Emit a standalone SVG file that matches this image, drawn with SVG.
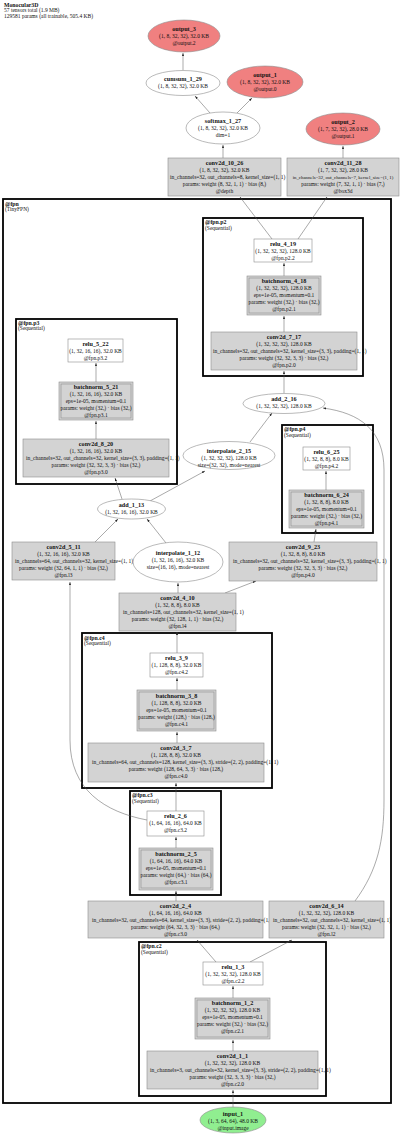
<svg xmlns="http://www.w3.org/2000/svg" width="400" height="1142" viewBox="0 0 400 1142">
<defs>
<marker id="ah" viewBox="0 0 6 4" refX="6" refY="2" markerWidth="3.2" markerHeight="2.4" markerUnits="userSpaceOnUse" orient="auto"><path d="M0,0 L6,2 L0,4 z" fill="#222"/></marker>
<style>
text{font-family:"Liberation Serif","Times New Roman",serif;fill:#111}
.h{font-size:6.2px;font-weight:bold;text-anchor:middle}
.s{font-size:5.5px;text-anchor:middle}
.l{font-size:5.5px;text-anchor:start}
.ch{font-size:5.8px;font-weight:bold}
.cs{font-size:5.5px}
.box{fill:#d3d3d3;stroke:#8c8c8c;stroke-width:0.6}
.wbox{fill:#fff;stroke:#8c8c8c;stroke-width:0.6}
.inner{fill:none;stroke:#8c8c8c;stroke-width:0.6}
.ell{fill:#fff;stroke:#8c8c8c;stroke-width:0.6}
.out{fill:#f08080;stroke:#8c8c8c;stroke-width:0.6}
.inp{fill:#90ee90;stroke:#8c8c8c;stroke-width:0.6}
.cl{fill:#fff;stroke:#000;stroke-width:1.8}
.e{fill:none;stroke:#555;stroke-width:0.5;marker-end:url(#ah)}
</style>
</defs>
<rect width="400" height="1142" fill="#fff"/>
<g id="header">
<text x="4" y="6.5" class="ch">Monocular3D</text>
<text x="4" y="12" class="cs">57 tensors total (1.9 MB)</text>
<text x="4" y="17.5" class="cs">129581 params (all trainable, 505.4 KB)</text>
</g>
<g id="clusters">
<g id="cluster_fpn"><rect class="cl" x="3" y="199" width="388" height="904"/><text x="5" y="205.5" class="ch">@fpn</text><text x="5" y="211" class="cs">(TinyFPN)</text></g>
<g id="cluster_p2"><rect class="cl" x="203" y="218" width="160" height="158"/><text x="205" y="224" class="ch">@fpn.p2</text><text x="205" y="229.5" class="cs">(Sequential)</text></g>
<g id="cluster_p3"><rect class="cl" x="16" y="319" width="161" height="165"/><text x="18" y="324.5" class="ch">@fpn.p3</text><text x="18" y="330" class="cs">(Sequential)</text></g>
<g id="cluster_p4"><rect class="cl" x="282" y="425" width="91" height="108"/><text x="284" y="431" class="ch">@fpn.p4</text><text x="284" y="436.5" class="cs">(Sequential)</text></g>
<g id="cluster_c4"><rect class="cl" x="82" y="633" width="190" height="155"/><text x="84" y="639.5" class="ch">@fpn.c4</text><text x="84" y="645" class="cs">(Sequential)</text></g>
<g id="cluster_c3"><rect class="cl" x="130" y="791" width="91" height="104"/><text x="132" y="797" class="ch">@fpn.c3</text><text x="132" y="802.5" class="cs">(Sequential)</text></g>
<g id="cluster_c2"><rect class="cl" x="139" y="942" width="187" height="154"/><text x="141" y="948" class="ch">@fpn.c2</text><text x="141" y="953.5" class="cs">(Sequential)</text></g>
</g>
<g id="connectors">
<path class="e" d="M183,70 L183,53"/>
<path class="e" d="M210,113 L195,96"/>
<path class="e" d="M237,113 L252,98"/>
<path class="e" d="M223,158 L223,145"/>
<path class="e" d="M343,158 L343,146"/>
<path class="e" d="M272,239 L240,197"/>
<path class="e" d="M298,239 L327,197"/>
<path class="e" d="M284,276 L284,263"/>
<path class="e" d="M284,332 L284,316"/>
<path class="e" d="M284,393 L284,371"/>
<path class="e" d="M250,442 L272,413"/>
<path class="e" d="M355,901 C378,870 384,840 384,800 L384,470 C384,430 360,413 323,408"/>
<path class="e" d="M122,499 L115,478"/>
<path class="e" d="M150,501 L205,471"/>
<path class="e" d="M95,542 L118,519"/>
<path class="e" d="M166,543 L147,519"/>
<path class="e" d="M178,593 L178,583"/>
<path class="e" d="M225,593 L256,581"/>
<path class="e" d="M314,542 L316,529"/>
<path class="e" d="M326,490 L326,471"/>
<path class="e" d="M96,439 L96,421"/>
<path class="e" d="M96,382 L96,363"/>
<path class="e" d="M177,653 L177,632"/>
<path class="e" d="M177,690 L177,678"/>
<path class="e" d="M177,743 L177,732"/>
<path class="e" d="M176,811 L176,783"/>
<path class="e" d="M147,820 C105,812 70,790 70,740 L70,582"/>
<path class="e" d="M176,848 L176,837"/>
<path class="e" d="M176,901 L176,891"/>
<path class="e" d="M216,962 L197,940"/>
<path class="e" d="M250,962 L292,940"/>
<path class="e" d="M233,998 L233,986"/>
<path class="e" d="M233,1051 L233,1040"/>
<path class="e" d="M233,1107 L233,1090"/>
</g>
<g id="output_3"><ellipse class="out" cx="184" cy="36" rx="36" ry="16"/><text x="184" y="31" class="h">output_3</text><text x="184" y="38" class="s">(1, 8, 32, 32), 32.0 KB</text><text x="184" y="45" class="s">@output.2</text></g>
<g id="cumsum_1_29"><ellipse class="ell" cx="183" cy="83" rx="37" ry="12.5"/><text x="183" y="80.7" class="h">cumsum_1_29</text><text x="183" y="87.7" class="s">(1, 8, 32, 32), 32.0 KB</text></g>
<g id="output_1"><ellipse class="out" cx="265" cy="82" rx="38" ry="16"/><text x="265" y="77" class="h">output_1</text><text x="265" y="84" class="s">(1, 8, 32, 32), 32.0 KB</text><text x="265" y="91" class="s">@output.0</text></g>
<g id="softmax_1_27"><ellipse class="ell" cx="223" cy="128" rx="37" ry="16"/><text x="223" y="123" class="h">softmax_1_27</text><text x="223" y="130" class="s">(1, 8, 32, 32), 32.0 KB</text><text x="223" y="137" class="s">dim=1</text></g>
<g id="output_2"><ellipse class="out" cx="343" cy="129" rx="37" ry="16"/><text x="343" y="124" class="h">output_2</text><text x="343" y="131" class="s">(1, 7, 32, 32), 28.0 KB</text><text x="343" y="138" class="s">@output.1</text></g>
<g id="conv2d_10_26"><rect class="box" x="168" y="158" width="113" height="38"/><text x="224.5" y="165" class="h">conv2d_10_26</text><text x="224.5" y="172" class="s">(1, 8, 32, 32), 32.0 KB</text><text x="170" y="179" class="l">in_channels=32, out_channels=8, kernel_size=(1, 1)</text><text x="224.5" y="186" class="s">params: weight (8, 32, 1, 1) · bias (8,)</text><text x="224.5" y="193" class="s">@depth</text></g>
<g id="conv2d_11_28"><rect class="box" x="287" y="158" width="112" height="38"/><text x="343" y="165" class="h">conv2d_11_28</text><text x="343" y="172" class="s">(1, 7, 32, 32), 28.0 KB</text><text x="343" y="179" class="s" style="font-size:4.8px">in_channels=32, out_channels=7, kernel_size=(1, 1)</text><text x="343" y="186" class="s">params: weight (7, 32, 1, 1) · bias (7,)</text><text x="343" y="193" class="s">@box3d</text></g>
<g id="relu_4_19"><rect class="wbox" x="254" y="239" width="58" height="23"/><text x="283" y="245.5" class="h">relu_4_19</text><text x="283" y="252.5" class="s">(1, 32, 32, 32), 128.0 KB</text><text x="283" y="259.5" class="s">@fpn.p2.2</text></g>
<g id="batchnorm_4_18"><rect class="box" x="247" y="276" width="74" height="39"/><rect class="inner" x="249" y="278" width="70" height="35"/><text x="284" y="283" class="h">batchnorm_4_18</text><text x="284" y="290" class="s">(1, 32, 32, 32), 128.0 KB</text><text x="284" y="297" class="s">eps=1e-05, momentum=0.1</text><text x="284" y="304" class="s">params: weight (32,) · bias (32,)</text><text x="284" y="311" class="s">@fpn.p2.1</text></g>
<g id="conv2d_7_17"><rect class="box" x="211" y="332" width="146" height="38"/><text x="284" y="339" class="h">conv2d_7_17</text><text x="284" y="346" class="s">(1, 32, 32, 32), 128.0 KB</text><text x="213" y="353" class="l">in_channels=32, out_channels=32, kernel_size=(3, 3), padding=(1, 1)</text><text x="284" y="360" class="s">params: weight (32, 32, 3, 3) · bias (32,)</text><text x="284" y="367" class="s">@fpn.p2.0</text></g>
<g id="add_2_16"><ellipse class="ell" cx="284" cy="403.5" rx="41" ry="10"/><text x="284" y="400.7" class="h">add_2_16</text><text x="284" y="407.5" class="s">(1, 32, 32, 32), 128.0 KB</text></g>
<g id="relu_5_22"><rect class="wbox" x="68" y="339" width="55" height="23"/><text x="95.5" y="345.5" class="h">relu_5_22</text><text x="95.5" y="352.5" class="s">(1, 32, 16, 16), 32.0 KB</text><text x="95.5" y="359.5" class="s">@fpn.p3.2</text></g>
<g id="batchnorm_5_21"><rect class="box" x="59" y="382" width="74" height="38"/><rect class="inner" x="61" y="384" width="70" height="34"/><text x="96" y="389" class="h">batchnorm_5_21</text><text x="96" y="396" class="s">(1, 32, 16, 16), 32.0 KB</text><text x="96" y="403" class="s">eps=1e-05, momentum=0.1</text><text x="96" y="410" class="s">params: weight (32,) · bias (32,)</text><text x="96" y="417" class="s">@fpn.p3.1</text></g>
<g id="conv2d_8_20"><rect class="box" x="23" y="439" width="146" height="38"/><text x="96" y="446" class="h">conv2d_8_20</text><text x="96" y="453" class="s">(1, 32, 16, 16), 32.0 KB</text><text x="26" y="460" class="l">in_channels=32, out_channels=32, kernel_size=(3, 3), padding=(1, 1)</text><text x="96" y="467" class="s">params: weight (32, 32, 3, 3) · bias (32,)</text><text x="96" y="474" class="s">@fpn.p3.0</text></g>
<g id="interpolate_2_15"><ellipse class="ell" cx="229" cy="455.5" rx="46" ry="14"/><text x="229" y="452.7" class="h">interpolate_2_15</text><text x="229" y="459.7" class="s">(1, 32, 32, 32), 128.0 KB</text><text x="229" y="466.7" class="s">size=(32, 32), mode=nearest</text></g>
<g id="relu_6_25"><rect class="wbox" x="303" y="447" width="47" height="23"/><text x="326.5" y="453.5" class="h">relu_6_25</text><text x="326.5" y="460.5" class="s">(1, 32, 8, 8), 8.0 KB</text><text x="326.5" y="467.5" class="s">@fpn.p4.2</text></g>
<g id="batchnorm_6_24"><rect class="box" x="289" y="490" width="75" height="38"/><rect class="inner" x="291" y="492" width="71" height="34"/><text x="326.5" y="497" class="h">batchnorm_6_24</text><text x="326.5" y="504" class="s">(1, 32, 8, 8), 8.0 KB</text><text x="326.5" y="511" class="s">eps=1e-05, momentum=0.1</text><text x="326.5" y="518" class="s">params: weight (32,) · bias (32,)</text><text x="326.5" y="525" class="s">@fpn.p4.1</text></g>
<g id="add_1_13"><ellipse class="ell" cx="131.5" cy="509" rx="34" ry="10"/><text x="131.5" y="506.5" class="h">add_1_13</text><text x="131.5" y="513.5" class="s">(1, 32, 16, 16), 32.0 KB</text></g>
<g id="conv2d_5_11"><rect class="box" x="12" y="542" width="103" height="38"/><text x="63.5" y="549" class="h">conv2d_5_11</text><text x="63.5" y="556" class="s">(1, 32, 16, 16), 32.0 KB</text><text x="15" y="563" class="l">in_channels=64, out_channels=32, kernel_size=(1, 1)</text><text x="63.5" y="570" class="s">params: weight (32, 64, 1, 1) · bias (32,)</text><text x="63.5" y="577" class="s">@fpn.l3</text></g>
<g id="interpolate_1_12"><ellipse class="ell" cx="178" cy="562" rx="45" ry="20"/><text x="178" y="555" class="h">interpolate_1_12</text><text x="178" y="562" class="s">(1, 32, 16, 16), 32.0 KB</text><text x="178" y="569" class="s">size=(16, 16), mode=nearest</text></g>
<g id="conv2d_9_23"><rect class="box" x="229" y="542" width="148" height="39"/><text x="303" y="549" class="h">conv2d_9_23</text><text x="303" y="556" class="s">(1, 32, 8, 8), 8.0 KB</text><text x="233" y="563" class="l">in_channels=32, out_channels=32, kernel_size=(3, 3), padding=(1, 1)</text><text x="303" y="570" class="s">params: weight (32, 32, 3, 3) · bias (32,)</text><text x="303" y="577" class="s">@fpn.p4.0</text></g>
<g id="conv2d_4_10"><rect class="box" x="119" y="593" width="117" height="38"/><text x="177.5" y="600" class="h">conv2d_4_10</text><text x="177.5" y="607" class="s">(1, 32, 8, 8), 8.0 KB</text><text x="123" y="614" class="l">in_channels=128, out_channels=32, kernel_size=(1, 1)</text><text x="177.5" y="621" class="s">params: weight (32, 128, 1, 1) · bias (32,)</text><text x="177.5" y="628" class="s">@fpn.l4</text></g>
<g id="relu_3_9"><rect class="wbox" x="150" y="653" width="53" height="24"/><text x="176.5" y="660" class="h">relu_3_9</text><text x="176.5" y="667" class="s">(1, 128, 8, 8), 32.0 KB</text><text x="176.5" y="674" class="s">@fpn.c4.2</text></g>
<g id="batchnorm_3_8"><rect class="box" x="137" y="690" width="79" height="41"/><rect class="inner" x="139" y="692" width="75" height="37"/><text x="176.5" y="698" class="h">batchnorm_3_8</text><text x="176.5" y="705" class="s">(1, 128, 8, 8), 32.0 KB</text><text x="176.5" y="712" class="s">eps=1e-05, momentum=0.1</text><text x="176.5" y="719" class="s">params: weight (128,) · bias (128,)</text><text x="176.5" y="726" class="s">@fpn.c4.1</text></g>
<g id="conv2d_3_7"><rect class="box" x="88" y="743" width="176" height="39"/><text x="176" y="749.5" class="h">conv2d_3_7</text><text x="176" y="756.5" class="s">(1, 128, 8, 8), 32.0 KB</text><text x="92" y="763.5" class="l">in_channels=64, out_channels=128, kernel_size=(3, 3), stride=(2, 2), padding=(1, 1)</text><text x="176" y="770.5" class="s">params: weight (128, 64, 3, 3) · bias (128,)</text><text x="176" y="777.5" class="s">@fpn.c4.0</text></g>
<g id="relu_2_6"><rect class="wbox" x="147" y="811" width="57" height="25"/><text x="175.5" y="818" class="h">relu_2_6</text><text x="175.5" y="825" class="s">(1, 64, 16, 16), 64.0 KB</text><text x="175.5" y="832" class="s">@fpn.c3.2</text></g>
<g id="batchnorm_2_5"><rect class="box" x="139" y="848" width="74" height="42"/><rect class="inner" x="141" y="850" width="70" height="38"/><text x="176" y="855.5" class="h">batchnorm_2_5</text><text x="176" y="862.5" class="s">(1, 64, 16, 16), 64.0 KB</text><text x="176" y="869.5" class="s">eps=1e-05, momentum=0.1</text><text x="176" y="876.5" class="s">params: weight (64,) · bias (64,)</text><text x="176" y="883.5" class="s">@fpn.c3.1</text></g>
<g id="conv2d_2_4"><rect class="box" x="88" y="901" width="175" height="37"/><text x="175.5" y="907.5" class="h">conv2d_2_4</text><text x="175.5" y="914.5" class="s">(1, 64, 16, 16), 64.0 KB</text><text x="92" y="921.5" class="l">in_channels=32, out_channels=64, kernel_size=(3, 3), stride=(2, 2), padding=(1, 1)</text><text x="175.5" y="928.5" class="s">params: weight (64, 32, 3, 3) · bias (64,)</text><text x="175.5" y="935.5" class="s">@fpn.c3.0</text></g>
<g id="conv2d_6_14"><rect class="box" x="269" y="901" width="115" height="37"/><text x="326.5" y="907.5" class="h">conv2d_6_14</text><text x="326.5" y="914.5" class="s">(1, 32, 32, 32), 128.0 KB</text><text x="273" y="921.5" class="l">in_channels=32, out_channels=32, kernel_size=(1, 1)</text><text x="326.5" y="928.5" class="s">params: weight (32, 32, 1, 1) · bias (32,)</text><text x="326.5" y="935.5" class="s">@fpn.l2</text></g>
<g id="relu_1_3"><rect class="wbox" x="203" y="962" width="60" height="23"/><text x="233" y="968.5" class="h">relu_1_3</text><text x="233" y="975.5" class="s">(1, 32, 32, 32), 128.0 KB</text><text x="233" y="982.5" class="s">@fpn.c2.2</text></g>
<g id="batchnorm_1_2"><rect class="box" x="195" y="998" width="75" height="41"/><rect class="inner" x="197" y="1000" width="71" height="37"/><text x="232.5" y="1005" class="h">batchnorm_1_2</text><text x="232.5" y="1012" class="s">(1, 32, 32, 32), 128.0 KB</text><text x="232.5" y="1019" class="s">eps=1e-05, momentum=0.1</text><text x="232.5" y="1026" class="s">params: weight (32,) · bias (32,)</text><text x="232.5" y="1033" class="s">@fpn.c2.1</text></g>
<g id="conv2d_1_1"><rect class="box" x="147" y="1051" width="171" height="38"/><text x="232.5" y="1058" class="h">conv2d_1_1</text><text x="232.5" y="1065" class="s">(1, 32, 32, 32), 128.0 KB</text><text x="150" y="1072" class="l">in_channels=3, out_channels=32, kernel_size=(3, 3), stride=(2, 2), padding=(1, 1)</text><text x="232.5" y="1079" class="s">params: weight (32, 3, 3, 3) · bias (32,)</text><text x="232.5" y="1086" class="s">@fpn.c2.0</text></g>
<g id="input_1"><ellipse class="inp" cx="233" cy="1120" rx="33" ry="13"/><text x="233" y="1116" class="h">input_1</text><text x="233" y="1123" class="s">(1, 3, 64, 64), 48.0 KB</text><text x="233" y="1130" class="s">@input.image</text></g>
</svg>
